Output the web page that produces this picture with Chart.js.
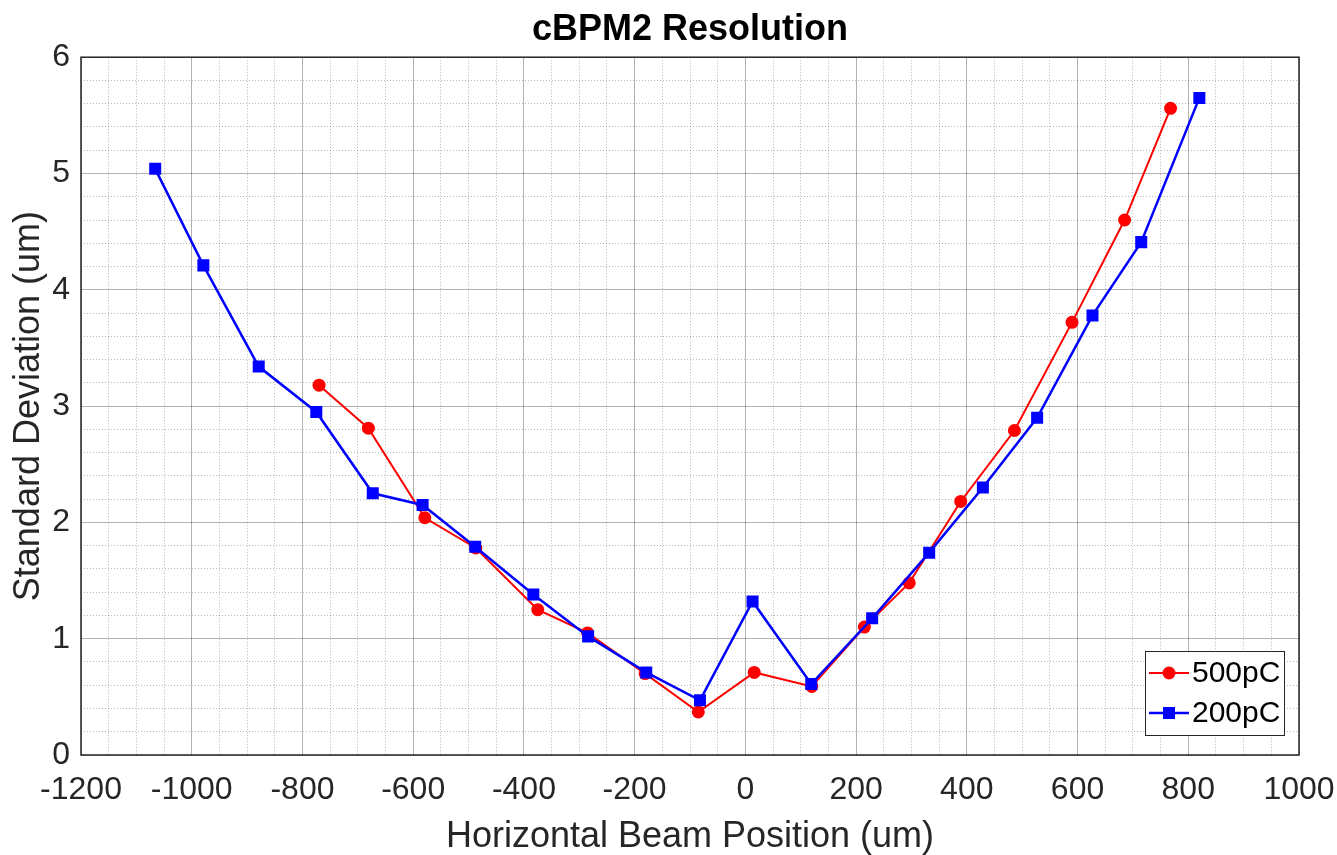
<!DOCTYPE html>
<html>
<head>
<meta charset="utf-8">
<title>cBPM2 Resolution</title>
<script src="https://cdn.jsdelivr.net/npm/chart.js@4.4.1/dist/chart.umd.min.js"></script>
<style>
  html, body { margin: 0; padding: 0; background: #fff; }
  #wrap { width: 1337px; height: 855px; }
</style>
</head>
<body>
<div id="wrap"><canvas id="chart" width="1337" height="855"></canvas></div>
<script>
// 500pC series
const pos500 = [-770, -681, -579, -487, -375, -285, -181, -85, 16, 120, 215, 296, 389, 486, 590, 685, 768];
const std500 = [3.18, 2.81, 2.04, 1.78, 1.25, 1.05, 0.70, 0.37, 0.71, 0.59, 1.10, 1.48, 2.18, 2.79, 3.72, 4.60, 5.56];

// 200pC series
const pos200 = [-1066, -979, -879, -775, -673, -583, -488, -383, -284, -179, -82, 13, 119, 229, 332, 429, 527, 627, 715, 820];
const std200 = [5.04, 4.21, 3.34, 2.95, 2.25, 2.15, 1.79, 1.38, 1.02, 0.71, 0.47, 1.32, 0.61, 1.175, 1.74, 2.30, 2.90, 3.78, 4.41, 5.65];

// axes
const xRange = [-1200, 1000];
const xMajor = 200, xMinor = 50;
const yRange = [0, 6];
const yMajor = 1, yMinor = 0.2;

const FONT = '"Liberation Sans", Arial, Helvetica, sans-serif';
const AXIS_GREY = '#262626';
const MAJOR_GRID = 'rgba(0,0,0,0.30)';
const MINOR_GRID = 'rgba(0,0,0,0.28)';

function isMajor(v, step) {
  const r = v / step;
  return Math.abs(r - Math.round(r)) < 1e-6;
}

function toPoints(xs, ys) {
  return xs.map((x, i) => ({ x: x, y: ys[i] }));
}

// box round the axes plus a legend inside the lower right corner
const matlabFrame = {
  id: 'matlabFrame',
  afterDatasetsDraw(chart) {
    const { ctx, chartArea: a } = chart;
    ctx.save();
    ctx.strokeStyle = AXIS_GREY;
    ctx.lineWidth = 1.5;
    ctx.strokeRect(a.left, a.top, a.right - a.left, a.bottom - a.top);

    const w = 139, h = 84;
    const x0 = Math.round(a.right - 15 - w);
    const y0 = Math.round(a.bottom - 20 - h);
    ctx.fillStyle = '#fff';
    ctx.fillRect(x0, y0, w, h);
    ctx.strokeStyle = AXIS_GREY;
    ctx.lineWidth = 1;
    ctx.strokeRect(x0 + 0.5, y0 + 0.5, w, h);

    chart.data.datasets.forEach((ds, i) => {
      const cy = y0 + 22 + i * 40;
      ctx.strokeStyle = ds.borderColor;
      ctx.lineWidth = ds.borderWidth;
      ctx.beginPath();
      ctx.moveTo(x0 + 4, cy);
      ctx.lineTo(x0 + 44, cy);
      ctx.stroke();
      ctx.fillStyle = ds.backgroundColor;
      if (ds.pointStyle === 'rect') {
        ctx.fillRect(x0 + 24 - 6, cy - 6, 12, 12);
      } else {
        ctx.beginPath();
        ctx.arc(x0 + 24, cy, 6.5, 0, Math.PI * 2);
        ctx.fill();
      }
      ctx.fillStyle = '#000';
      ctx.font = '30px ' + FONT;
      ctx.textAlign = 'left';
      ctx.textBaseline = 'middle';
      ctx.fillText(ds.label, x0 + 47, cy + 1);
    });
    ctx.restore();
  }
};

const ctx = document.getElementById('chart').getContext('2d');
new Chart(ctx, {
  type: 'scatter',
  data: {
    datasets: [{
      label: '500pC',
      data: toPoints(pos500, std500),
      showLine: true,
      borderColor: '#ff0000',
      backgroundColor: '#ff0000',
      borderWidth: 2,
      pointStyle: 'circle',
      pointRadius: 6.5,
      pointBorderWidth: 0,
      order: 2
    }, {
      label: '200pC',
      data: toPoints(pos200, std200),
      showLine: true,
      borderColor: '#0000ff',
      backgroundColor: '#0000ff',
      borderWidth: 2.5,
      pointStyle: 'rect',
      pointRadius: 8.5,
      pointBorderWidth: 0,
      order: 1
    }]
  },
  options: {
    responsive: false,
    animation: false,
    layout: { padding: { left: 0, right: 38, top: 0, bottom: 0 } },
    plugins: {
      legend: { display: false },
      tooltip: { enabled: false },
      title: {
        display: true,
        text: 'cBPM2 Resolution',
        color: '#000',
        fullSize: false,
        font: { family: FONT, size: 36, weight: 'bold' },
        padding: { top: 8, bottom: 6 }
      }
    },
    scales: {
      x: {
        type: 'linear',
        min: xRange[0],
        max: xRange[1],
        afterFit: s => { s.height = 100; },
        ticks: {
          stepSize: xMinor,
          maxTicksLimit: 200,
          autoSkip: false,
          maxRotation: 0,
          padding: 0,
          color: AXIS_GREY,
          font: { family: FONT, size: 32 },
          callback: v => (isMajor(v, xMajor) ? String(v) : '')
        },
        grid: {
          drawTicks: true,
          tickLength: 16,
          tickColor: 'rgba(0,0,0,0)',
          color: c => (isMajor(c.tick.value, xMajor) ? MAJOR_GRID : MINOR_GRID),
          lineWidth: 1
        },
        border: {
          display: false,
          dash: c => (c.tick && isMajor(c.tick.value, xMajor) ? [] : [1, 2])
        },
        title: {
          display: true,
          text: 'Horizontal Beam Position (um)',
          color: AXIS_GREY,
          font: { family: FONT, size: 36 },
          padding: { top: 0, bottom: -4 }
        }
      },
      y: {
        type: 'linear',
        min: yRange[0],
        max: yRange[1],
        afterFit: s => { s.width = 81; },
        ticks: {
          stepSize: yMinor,
          maxTicksLimit: 200,
          autoSkip: false,
          padding: 11,
          color: AXIS_GREY,
          font: { family: FONT, size: 32 },
          callback: v => (isMajor(v, yMajor) ? String(Math.round(v)) : '')
        },
        grid: {
          drawTicks: false,
          color: c => (isMajor(c.tick.value, yMajor) ? MAJOR_GRID : MINOR_GRID),
          lineWidth: 1
        },
        border: {
          display: false,
          dash: c => (c.tick && isMajor(c.tick.value, yMajor) ? [] : [1, 2])
        },
        title: {
          display: true,
          text: 'Standard Deviation (um)',
          color: AXIS_GREY,
          font: { family: FONT, size: 36 },
          padding: { top: 7, bottom: 0 }
        }
      }
    }
  },
  plugins: [matlabFrame]
});
</script>
</body>
</html>
